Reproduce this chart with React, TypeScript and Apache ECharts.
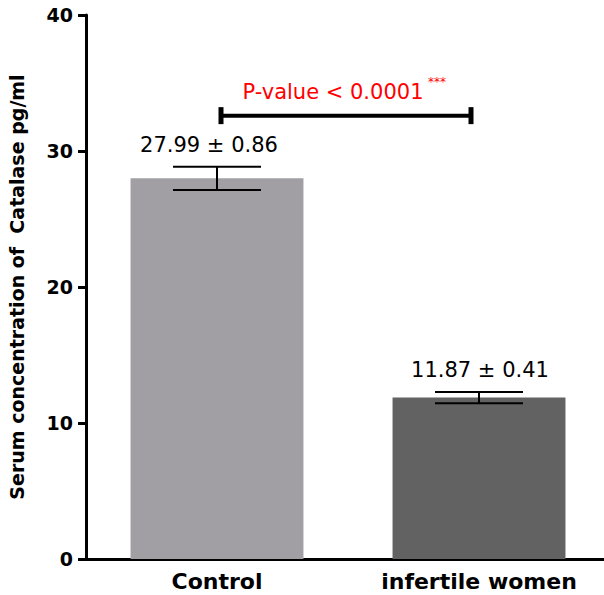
import React, { useEffect, useRef } from "react";
import * as echarts from "echarts";

const categories = ["Control", "infertile women"];
const means = [27.99, 11.87];
const sems = [0.86, 0.41];
const meanLabels = ["27.99 ± 0.86", "11.87 ± 0.41"];
const yTicks = [0, 10, 20, 30, 40];
const pValueText = "P-value < 0.0001";
const pStars = "***";
const bracketLevel = 32.6;
const barColors = ["#a19fa4", "#626262"];
const labelShiftX = [-8, 1];

const FONT = "'DejaVu Sans', 'Liberation Sans', Arial";

export default function App() {
  const ref = useRef<HTMLDivElement>(null);
  useEffect(() => {
    if (!ref.current) return;
    const chart = echarts.init(ref.current, null, { renderer: "svg" });
    const errData = categories.map((c, i) => [i, means[i] - sems[i], means[i] + sems[i]]);
    chart.setOption({
      animation: false,
      grid: { left: 86, top: 15, bottom: 36, right: -6, outerBoundsMode: "none", containLabel: false },
      xAxis: {
        type: "category",
        data: categories,
        axisLine: { lineStyle: { color: "#000", width: 3 } },
        axisTick: { alignWithLabel: true, length: 6, lineStyle: { color: "#000", width: 3 } },
        axisLabel: { color: "#000", fontSize: 22, fontWeight: "bold", fontFamily: FONT, margin: 11 },
      },
      yAxis: {
        type: "value",
        min: yTicks[0],
        max: yTicks[yTicks.length - 1],
        interval: 10,
        name: "Serum concentration of  Catalase pg/ml",
        nameLocation: "middle",
        nameGap: 60,
        nameTextStyle: { color: "#000", fontSize: 19, fontWeight: "bold", fontFamily: FONT },
        axisLine: { show: true, lineStyle: { color: "#000", width: 3 } },
        axisTick: { show: true, length: 8, lineStyle: { color: "#000", width: 3 } },
        splitLine: { show: false },
        axisLabel: { color: "#000", fontSize: 19, fontWeight: "bold", fontFamily: FONT, margin: 13 },
      },
      series: [
        {
          type: "bar",
          data: means.map((v, i) => ({ value: v, itemStyle: { color: barColors[i] } })),
          barWidth: "66%",
          z: 1,
        },
        {
          type: "custom",
          data: errData,
          z: 5,
          renderItem: (params: any, api: any) => {
            const x = api.value(0);
            const lo = api.coord([x, api.value(1)]);
            const hi = api.coord([x, api.value(2)]);
            const half = 44;
            const ls = { stroke: "#000", lineWidth: 2 };
            return {
              type: "group",
              children: [
                { type: "line", shape: { x1: hi[0], y1: hi[1], x2: lo[0], y2: lo[1] }, style: ls },
                { type: "line", shape: { x1: hi[0] - half, y1: hi[1], x2: hi[0] + half, y2: hi[1] }, style: ls },
                { type: "line", shape: { x1: lo[0] - half, y1: lo[1], x2: lo[0] + half, y2: lo[1] }, style: ls },
                {
                  type: "text",
                  style: {
                    x: hi[0] + labelShiftX[params.dataIndex],
                    y: hi[1] - 22,
                    text: meanLabels[params.dataIndex],
                    fill: "#000",
                    font: "21px " + FONT,
                    align: "center",
                    verticalAlign: "middle",
                  },
                },
              ],
            };
          },
        },
        {
          type: "custom",
          data: [[0, 1, bracketLevel]],
          z: 6,
          renderItem: (params: any, api: any) => {
            const a = api.coord([api.value(0), api.value(2)]);
            const b = api.coord([api.value(1), api.value(2)]);
            const x1 = a[0] + 4;
            const x2 = b[0] - 8;
            const y = a[1];
            return {
              type: "group",
              children: [
                { type: "line", shape: { x1, y1: y, x2, y2: y }, style: { stroke: "#000", lineWidth: 4 } },
                { type: "line", shape: { x1, y1: y - 8.5, x2: x1, y2: y + 8.5 }, style: { stroke: "#000", lineWidth: 5 } },
                { type: "line", shape: { x1: x2, y1: y - 8.5, x2, y2: y + 8.5 }, style: { stroke: "#000", lineWidth: 5 } },
                {
                  type: "text",
                  style: {
                    x: x1 + 112,
                    y: y - 24,
                    text: pValueText,
                    fill: "#ff0000",
                    font: "21px " + FONT,
                    align: "center",
                    verticalAlign: "middle",
                  },
                },
                {
                  type: "text",
                  style: {
                    x: x1 + 207,
                    y: y - 34,
                    text: pStars,
                    fill: "#ff0000",
                    font: "12px " + FONT,
                    align: "left",
                    verticalAlign: "middle",
                  },
                },
              ],
            };
          },
        },
      ],
    });
    return () => chart.dispose();
  }, []);
  return <div ref={ref} style={{ position: "absolute", left: 0, top: 0, width: 604, height: 595 }} />;
}
